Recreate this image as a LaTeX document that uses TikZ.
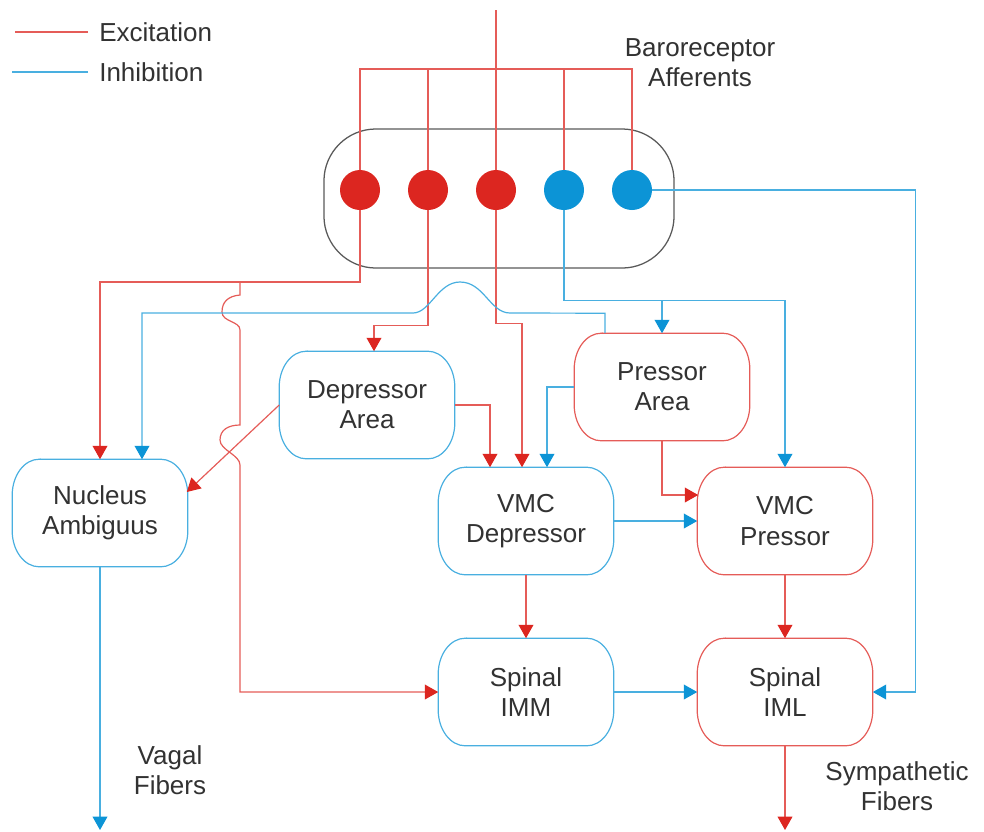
\documentclass[tikz,border=0pt]{standalone}
\usepackage{fontspec}
\setmainfont{Liberation Sans}
\usepackage{tikz}
\usetikzlibrary{arrows.meta,calc}
\definecolor{exred}{RGB}{220,38,32}
\definecolor{inblue}{RGB}{12,148,214}
\definecolor{txtgray}{RGB}{50,50,50}

\begin{document}
\begin{tikzpicture}[x=0.025cm, y=-0.025cm,
    exwire/.style={draw=exred!75, line width=0.85pt},
    inwire/.style={draw=inblue!75, line width=0.85pt},
    exarrow/.style={exwire, -{Triangle[width=10.5pt, length=9.5pt, color=exred]}},
    inarrow/.style={inwire, -{Triangle[width=10.5pt, length=9.5pt, color=inblue]}},
    txt/.style={text=txtgray, font=\fontsize{18.5}{21.5}\selectfont, align=center, inner sep=0pt},
    areabox/.style={txt, minimum width=4.375cm, minimum height=2.675cm},
    neuron/.style={circle, minimum size=1cm, inner sep=0pt}]
    \useasboundingbox (0,0) rectangle (984,831);

    % 图例
    \node[txt, anchor=west] (lgex) at (99,32) {Excitation};
    \node[txt, anchor=west] (lgin) at (99,72) {Inhibition};
    \draw[exwire] (lgex.west) ++(-11,0) -- ++(-73,0);
    \draw[inwire] (lgin.west) ++(-11,0) -- ++(-76,0);

    % 压力感受器传入
    \node[txt] (baro) at (700,63) {Baroreceptor\\Afferents};
    \node[draw=black!65, line width=0.9pt, rounded corners=1.3cm,
          minimum width=8.75cm, minimum height=3.475cm] (nts) at (499,198.5) {};
    \foreach \i/\x/\c in {1/360/exred, 2/428/exred, 3/496/exred, 4/564/inblue, 5/632/inblue}
        \node[neuron, fill=\c] (n\i) at (\x,190) {};
    \coordinate (aff) at (496,10);
    \coordinate (bus) at (496,69);
    \draw[exwire] (aff) -- (n3.north);
    \draw[exwire] (n1.north) |- (bus) -| (n5.north);
    \foreach \i in {2,4}
        \draw[exwire] (n\i.north) -- (n\i.north |- bus);

    % 各区域
    \node[areabox] (na) at (100,513) {Nucleus\\Ambiguus};
    \node[areabox] (dep) at (367,405) {Depressor\\Area};
    \node[areabox] (pre) at (662,387) {Pressor\\Area};
    \node[areabox] (vmcd) at (526,521) {VMC\\Depressor};
    \node[areabox] (vmcp) at (785,521) {VMC\\Pressor};
    \node[areabox] (imm) at (526,692) {Spinal\\IMM};
    \node[areabox] (iml) at (785,692) {Spinal\\IML};
    \foreach \n/\c in {na/inblue, dep/inblue, pre/exred, vmcd/inblue, vmcp/exred, imm/inblue, iml/exred}
        \draw[\c!75, line width=0.85pt] ($(\n.north west)+(27,0)$) -- ($(\n.north east)+(-27,0)$)
            arc[start angle=90, end angle=0, x radius=0.675cm, y radius=0.9cm]
            -- ($(\n.south east)+(0,-36)$)
            arc[start angle=0, end angle=-90, x radius=0.675cm, y radius=0.9cm]
            -- ($(\n.south west)+(27,0)$)
            arc[start angle=270, end angle=180, x radius=0.675cm, y radius=0.9cm]
            -- ($(\n.north west)+(0,36)$)
            arc[start angle=180, end angle=90, x radius=0.675cm, y radius=0.9cm] -- cycle;

    % 兴奋通路
    \draw[exarrow] (n1.south) |- (240,282) coordinate (sp) -| (na.north);
    \draw[exarrow] (sp) -- (240,295) .. controls (228,296) and (222,302) .. (222,312)
        .. controls (222,322) and (240,321) .. (240,330) -- (240,425)
        .. controls (228,425) and (220,430) .. (220,440)
        .. controls (220,450) and (240,455) .. (240,465) |- (imm.west);
    \draw[exarrow] (n2.south) -- ++(0,115) -| ($(dep.north)+(7,0)$);
    \draw[exarrow] (n3.south) -- ++(0,113) -| ($(vmcd.north)+(-4,0)$);
    \draw[exarrow] (dep.east) -| ($(vmcd.north)+(-36,0)$);
    \draw[exarrow] (dep.west) -- ($(na.east)+(-1,-21)$);
    \draw[exarrow] (pre.south) |- ($(vmcp.west)+(1,-26)$);
    \draw[exarrow] (vmcd.south) -- (imm.north);
    \draw[exarrow] (vmcp.south) -- (iml.north);
    \coordinate (symp) at (785,830);
    \draw[exarrow] (iml.south) -- (symp);

    % 抑制通路
    \draw[inarrow] (n4.south) -- ++(0,90) coordinate (ij) -| (vmcp.north);
    \draw[inarrow] (ij -| pre.north) -- (pre.north);
    \draw[inarrow] (n5.east) -- ++(263,0) |- (iml.east);
    \draw[inarrow] ($(pre.north)+(-57,0)$) -- ++(0,-20) -- (510,313)
        .. controls (490,313) and (484,282) .. (460,282)
        .. controls (438,282) and (430,313) .. (413,313) -| ($(na.north)+(42,0)$);
    \draw[inarrow] (pre.west) -| ($(vmcd.north)+(21,0)$);
    \draw[inarrow] (vmcd.east) -- (vmcp.west);
    \draw[inarrow] (imm.east) -- (iml.west);
    \coordinate (vagal) at (100,830);
    \draw[inarrow] (na.south) -- (vagal);

    % 传出纤维
    \node[txt] (vag) at (170,770) {Vagal\\Fibers};
    \node[txt] (sym) at (897,786) {Sympathetic\\Fibers};
\end{tikzpicture}
\end{document}
